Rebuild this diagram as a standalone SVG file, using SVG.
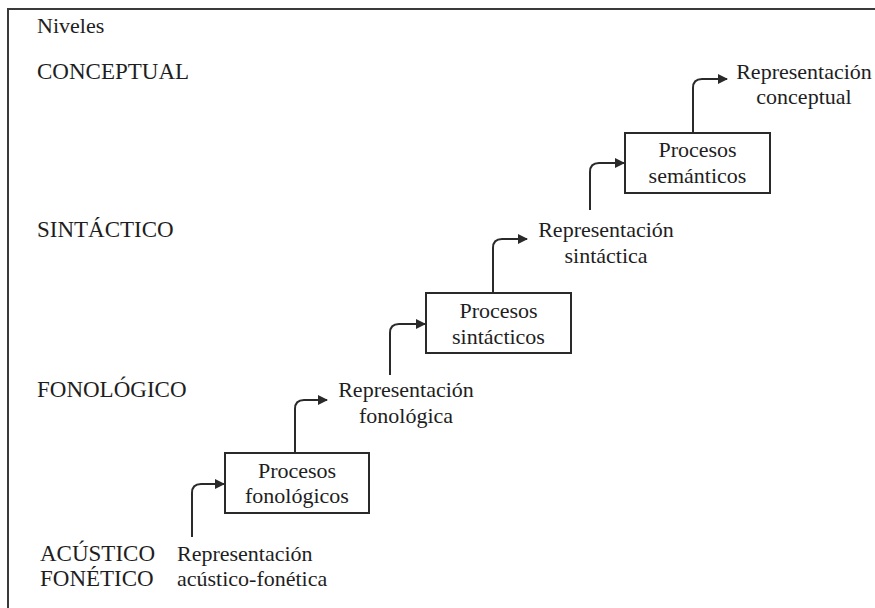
<svg xmlns="http://www.w3.org/2000/svg" width="875" height="608" viewBox="0 0 875 608">
<defs>
<style>
text{fill:#1e1e1e}
.t{font-size:22px}
.c{font-size:23px}
.m{text-anchor:middle}
.box{fill:#fff;stroke:#2a2a2a;stroke-width:2}
.arr{fill:none;stroke:#2a2a2a;stroke-width:2;marker-end:url(#ah)}
</style>
<marker id="ah" viewBox="0 0 10 10" refX="9" refY="5" markerWidth="5" markerHeight="5" orient="auto" markerUnits="strokeWidth">
<path d="M0,0 L10,5 L0,10 Z" fill="#2a2a2a"/>
</marker>
</defs>
<rect width="875" height="608" fill="#fff"/>
<path d="M8,608 V9 H875" fill="none" stroke="#3a3a3a" stroke-width="2"/>
<g font-family="Liberation Serif, Times New Roman, Times, DejaVu Serif, serif">
<g id="levels">
<text class="t" x="37" y="33">Niveles</text>
<text class="c" x="37" y="79">CONCEPTUAL</text>
<text class="c" x="37" y="237">SINTÁCTICO</text>
<text class="c" x="37" y="397">FONOLÓGICO</text>
<text class="c" x="40" y="561">ACÚSTICO</text>
<text class="c" x="40" y="586">FONÉTICO</text>
</g>
<g id="rep-acustica">
<text class="t" x="177" y="561">Representación</text>
<text class="t" x="177" y="586">acústico-fonética</text>
</g>
<g id="proc-fonologicos">
<rect class="box" x="225" y="453" width="144" height="60"/>
<text class="t m" x="297" y="478">Procesos</text>
<text class="t m" x="297" y="503">fonológicos</text>
</g>
<g id="rep-fonologica">
<text class="t m" x="406" y="397">Representación</text>
<text class="t m" x="406" y="423">fonológica</text>
</g>
<g id="proc-sintacticos">
<rect class="box" x="426" y="293" width="145" height="60"/>
<text class="t m" x="498.5" y="318">Procesos</text>
<text class="t m" x="498.5" y="344">sintácticos</text>
</g>
<g id="rep-sintactica">
<text class="t m" x="606" y="237">Representación</text>
<text class="t m" x="606" y="263">sintáctica</text>
</g>
<g id="proc-semanticos">
<rect class="box" x="625" y="133" width="145" height="60"/>
<text class="t m" x="697.5" y="157">Procesos</text>
<text class="t m" x="697.5" y="183">semánticos</text>
</g>
<g id="rep-conceptual">
<text class="t m" x="804" y="79">Representación</text>
<text class="t m" x="804" y="104">conceptual</text>
</g>
</g>
<g id="connectors">
<path class="arr" d="M192,537 V493 Q192,484 201,484 H224"/>
<path class="arr" d="M295,453 V409 Q295,400 304,400 H327"/>
<path class="arr" d="M390,375 V333 Q390,324 399,324 H425"/>
<path class="arr" d="M493,293 V248 Q493,239 502,239 H527"/>
<path class="arr" d="M590,210 V172 Q590,163 599,163 H624"/>
<path class="arr" d="M693,133 V88 Q693,79 702,79 H727"/>
</g>
</svg>
